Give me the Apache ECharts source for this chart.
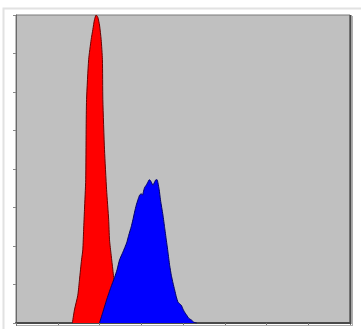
<!DOCTYPE html>
<html>
<head>
<meta charset="utf-8">
<script src="https://cdn.jsdelivr.net/npm/echarts@6/dist/echarts.min.js"></script>
<style>
html,body{margin:0;padding:0;background:#fff;}
#c{width:361px;height:329px;}
</style>
</head>
<body>
<div id="c"></div>
<script>
// Red histogram (control) as [channel, count]
var redX = [135,140,148,152,157,160,162,164,167,168,169,174,180,184,188,192,196,200,204,207,208,212,217,222,224,228,232,236,241,246,251];
var redY = [0,17,36,56,82,95,121,147,186,251,290,342,368,381,394,400,397,387,368,342,290,225,173,134,108,88,69,49,30,10,0];
// Blue histogram (sample) as [channel, count]
var blueX = [200,208,217,227,236,242,248,256,265,270,276,280,284,288,292,296,300,303,305,308,312,316,319,322,324,328,330,332,335,338,340,343,346,349,352,356,360,364,368,372,376,380,384,388,392,396,400,404,409,414,420,426,433];
var blueY = [0,14,30,46,59,69,82,92,104,114,125,134,144,153,160,166,168,166,170,176,179,183,186,185,183,179,181,183,186,186,182,173,160,150,140,124,108,92,75,62,52,43,34,27,25,23,18,14,10,6,4,1,0];
// Axis ticks (no labels shown)
var xMin = 0, xMax = 800, xStep = 100;
var yMin = 0, yMax = 400, yStep = 50;

function pairs(xs, ys){ return xs.map(function(x,i){ return [x, ys[i]]; }); }

var chart = echarts.init(document.getElementById('c'), null, {renderer:'canvas'});
chart.setOption({
  animation:false,
  backgroundColor:'#ffffff',
  grid:{left:16,right:11,top:15,bottom:6,show:true,backgroundColor:'#c0c0c0',borderColor:'#7a7a7a',borderWidth:1},
  xAxis:{type:'value',min:xMin,max:xMax,interval:xStep,
    axisLine:{show:true,lineStyle:{color:'#4a4a4a',width:2}},
    axisTick:{show:true,inside:false,length:3,lineStyle:{color:'#777'}},
    axisLabel:{show:false},splitLine:{show:false}},
  yAxis:{type:'value',min:yMin,max:yMax,interval:yStep,
    axisLine:{show:true,lineStyle:{color:'#6a6a6a',width:1}},
    axisTick:{show:true,inside:false,length:3,lineStyle:{color:'#888'}},
    axisLabel:{show:false},splitLine:{show:false}},
  graphic:[
    {type:'rect',shape:{x:3.5,y:8.5,width:360,height:330},style:{fill:'none',stroke:'#e2e2e2',lineWidth:2},z:-1},
    {type:'line',shape:{x1:350.5,y1:15,x2:350.5,y2:324},style:{stroke:'#4a4a4a',lineWidth:2},z:100},
    {type:'line',shape:{x1:352.5,y1:16,x2:352.5,y2:326},style:{stroke:'#b0b0b0',lineWidth:1},z:100},
    {type:'line',shape:{x1:17,y1:325.5,x2:353,y2:325.5},style:{stroke:'#b0b0b0',lineWidth:1},z:100}
  ],
  series:[
    {type:'line',data:pairs(redX,redY),showSymbol:false,smooth:0.2,
     lineStyle:{color:'#6a0000',width:1},areaStyle:{color:'#ff0000',opacity:1},z:2},
    {type:'line',data:pairs(blueX,blueY),showSymbol:false,smooth:0.15,
     lineStyle:{color:'#00006a',width:1},areaStyle:{color:'#0000ff',opacity:1},z:3}
  ]
});
</script>
</body>
</html>
